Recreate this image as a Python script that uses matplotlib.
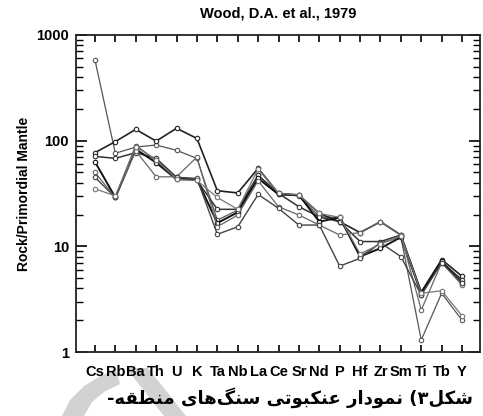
import matplotlib
matplotlib.use("Agg")
import matplotlib.pyplot as plt
from matplotlib.patches import Polygon
import numpy as np

elements = ["Cs", "Rb", "Ba", "Th", "U", "K", "Ta", "Nb", "La", "Ce",
            "Sr", "Nd", "P", "Hf", "Zr", "Sm", "Ti", "Tb", "Y"]

s1 = [578, 76, 87, 91, 81, 68, 17.7, 22, 47, 31, 30, 19, 18.8, 8.0, 10.8, 12.2, 1.3, 3.6, 2.0]
s2 = [77, 98, 128, 99, 131, 105, 33.6, 32, 54.7, 31.7, 30.6, 20.5, 17.1, 13.5, 17.1, 12.8, 3.7, 7.5, 5.2]
s3 = [71, 68, 77, 68, 45, 42, 22.4, 22.4, 47, 31.7, 23.7, 19, 17.1, 11.1, 11.1, 12.8, 3.5, 7.1, 4.8]
s4 = [63, 29, 83, 62, 43, 43, 16.6, 21, 44, 31, 30.6, 17.1, 18.8, 8.0, 9.6, 12.2, 3.6, 7.2, 4.5]
s5 = [50, 29, 80, 45.5, 45.5, 70, 15.3, 19.8, 41.7, 23.7, 19.8, 15.9, 12.8, 13.5, 17.1, 12.8, 2.5, 7.0, 4.3]
s6 = [45, 29, 90, 65, 45, 44, 13, 15.3, 31, 22.9, 15.9, 15.9, 6.5, 7.7, 10.8, 8.0, 3.46, 7.0, 4.5]
s7 = [35, 30, 88, 66, 43, 42, 29, 22.4, 54, 31.7, 30.6, 20.5, 18.8, 8.5, 10.5, 12.5, 3.6, 3.8, 2.2]

series = [s1, s2, s3, s4, s5, s6, s7]
colors = ["#555555", "#222222", "#333333", "#111111", "#666666", "#444444", "#777777"]
widths = [0.9, 1.2, 1.1, 1.4, 0.9, 1.0, 0.9]

title = "Wood, D.A. et al., 1979"
ylabel = "Rock/Primordial Mantle"
caption = "شکل۳) نمودار عنکبوتی سنگ\u200cهای منطقه-"

# --- minimal Arabic/Persian shaping for display ---
forms = {
    "ش": ("\uFEB5", "\uFEB6", "\uFEB7", "\uFEB8"),
    "ک": ("\uFB8E", "\uFB8F", "\uFB90", "\uFB91"),
    "ل": ("\uFEDD", "\uFEDE", "\uFEDF", "\uFEE0"),
    "ن": ("\uFEE5", "\uFEE6", "\uFEE7", "\uFEE8"),
    "م": ("\uFEE1", "\uFEE2", "\uFEE3", "\uFEE4"),
    "و": ("\uFEED", "\uFEEE", None, None),
    "د": ("\uFEA9", "\uFEAA", None, None),
    "ا": ("\uFE8D", "\uFE8E", None, None),
    "ر": ("\uFEAD", "\uFEAE", None, None),
    "ع": ("\uFEC9", "\uFECA", "\uFECB", "\uFECC"),
    "ب": ("\uFE8F", "\uFE90", "\uFE91", "\uFE92"),
    "ت": ("\uFE95", "\uFE96", "\uFE97", "\uFE98"),
    "ی": ("\uFBFC", "\uFBFD", "\uFBFE", "\uFBFF"),
    "س": ("\uFEB1", "\uFEB2", "\uFEB3", "\uFEB4"),
    "گ": ("\uFB92", "\uFB93", "\uFB94", "\uFB95"),
    "ه": ("\uFEE9", "\uFEEA", "\uFEEB", "\uFEEC"),
    "ط": ("\uFEC1", "\uFEC2", "\uFEC3", "\uFEC4"),
    "ق": ("\uFED5", "\uFED6", "\uFED7", "\uFED8"),
}


def shape(text):
    out = []
    n = len(text)
    for i, ch in enumerate(text):
        if ch not in forms:
            out.append(ch)
            continue
        prev = text[i - 1] if i > 0 else ""
        nxt = text[i + 1] if i < n - 1 else ""
        join_prev = prev in forms and forms[prev][2] is not None
        join_next = nxt in forms and forms[ch][2] is not None
        f = forms[ch]
        if join_prev and join_next:
            out.append(f[3])
        elif join_prev:
            out.append(f[1])
        elif join_next:
            out.append(f[2])
        else:
            out.append(f[0])
    vis = "".join(out)[::-1].replace("\u200c", "")
    mirror = {"(": ")", ")": "("}
    return "".join(mirror.get(c, c) for c in vis)


W, H = 483, 416
fig = plt.figure(figsize=(W / 100, H / 100), dpi=100)


def px(xp, yp):
    return (xp / W, 1 - yp / H)


# light-grey watermark shapes behind the chart (page decoration)
wm1 = [px(62, 416), px(70, 400), px(84, 386), px(102, 375), px(116, 370),
       px(120, 384), px(104, 392), px(92, 402), px(84, 416)]
wm2 = [px(126, 368), px(148, 368), px(186, 416), px(164, 416)]
for pts in (wm1, wm2):
    fig.patches.append(Polygon(pts, closed=True, transform=fig.transFigure,
                               facecolor="#d2d2d2", edgecolor="none", zorder=0))

ax = fig.add_axes([76 / W, 1 - 352 / H, (480 - 76) / W, (352 - 35) / H])
ax.set_zorder(2)

x = np.arange(len(elements))
for s, c, w in zip(series, colors, widths):
    ax.plot(x, s, color=c, lw=w, marker="o", ms=3.2, mfc="white",
            mec=c, mew=0.8)

ax.set_yscale("log")
ax.set_ylim(1, 1000)
ax.set_xlim(-0.93, 18.88)
ax.set_xticks(x)
ax.set_xticklabels(elements)
ax.tick_params(axis="x", which="both", direction="in", top=True, bottom=True,
               length=5, width=1.2, pad=9)
ax.tick_params(axis="y", which="major", direction="in", left=True, right=True,
               length=8, width=1.2, pad=5)
ax.tick_params(axis="y", which="minor", direction="in", left=True, right=True,
               length=5, width=1.0)
ax.set_yticks([1, 10, 100, 1000])
ax.set_yticklabels(["1", "10", "100", "1000"])
for sp in ax.spines.values():
    sp.set_linewidth(1.3)
    sp.set_color("#222222")

for lab in ax.get_xticklabels() + ax.get_yticklabels():
    lab.set_fontfamily("Liberation Sans")
    lab.set_fontweight("bold")
    lab.set_fontsize(10.5)

ax.set_ylabel(ylabel, fontfamily="Liberation Sans", fontweight="bold",
              fontsize=10, labelpad=4)
fig.text(0.5 * (76 + 480) / W, 1 - 13 / H, title, ha="center", va="center",
         fontfamily="Liberation Sans", fontweight="bold", fontsize=10.5)

fig.text(473 / W, 1 - 398 / H, shape(caption), ha="right", va="center",
         fontfamily=["DejaVu Sans"], fontweight="bold", fontsize=13, zorder=3)

fig.savefig("out.png", dpi=100)
